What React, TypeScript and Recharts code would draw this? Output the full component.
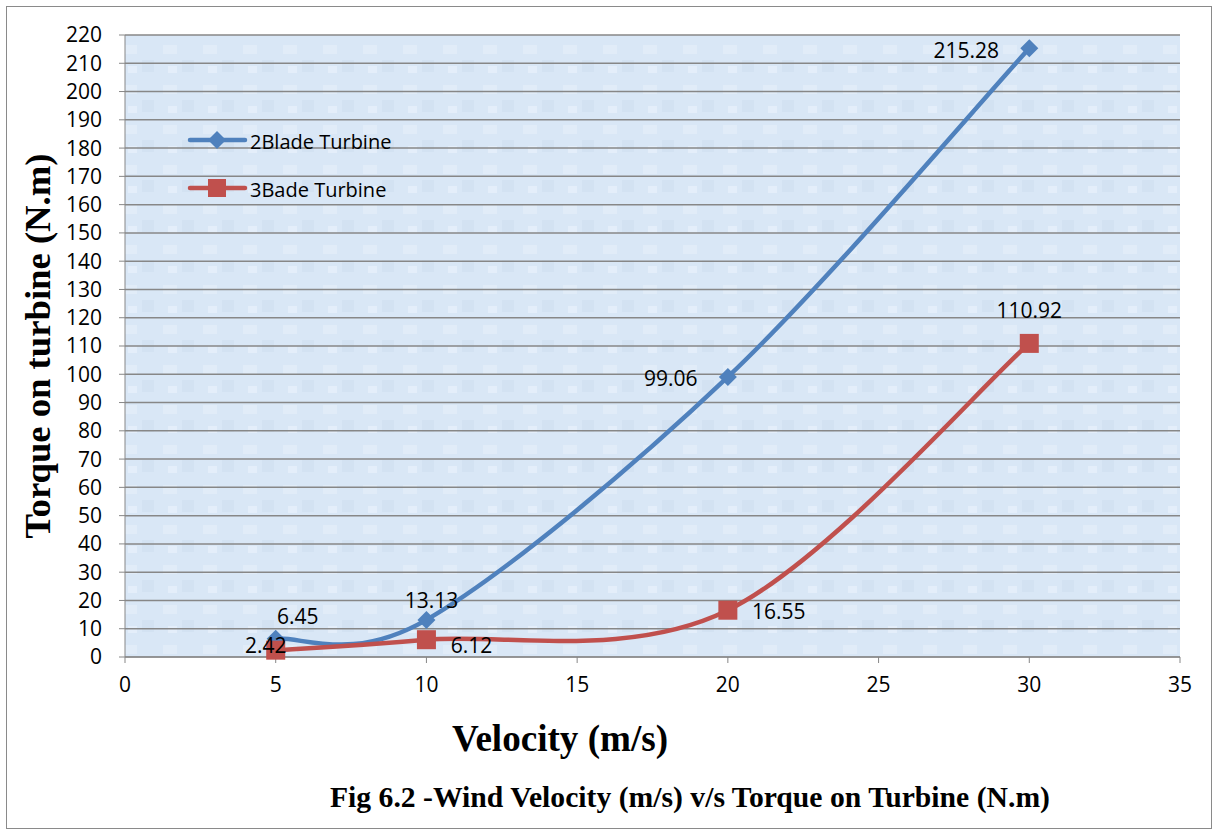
import React from "react";
import { LineChart, Line, XAxis, YAxis, CartesianGrid } from "recharts";

const velocity = [5, 10, 20, 30];
const blade2 = [6.45, 13.13, 99.06, 215.28];
const blade3 = [2.42, 6.12, 16.55, 110.92];
const xTicks = [0, 5, 10, 15, 20, 25, 30, 35];
const yTicks = [0, 10, 20, 30, 40, 50, 60, 70, 80, 90, 100, 110, 120, 130, 140, 150, 160, 170, 180, 190, 200, 210, 220];

const data = velocity.map((v, i) => ({ v, b2: blade2[i], b3: blade3[i] }));

// label placement per point: [dx, dy] offsets relative to the point (text centre)
const b2Pos = [[22, -23], [5, -20], [-57, 1], [-63, 2]];
const b3Pos = [[-10, -5], [45, 5], [51, 1], [0, -33]];

// Excel-style smooth curve (Catmull-Rom Bezier)
function excelCurve(context: any) {
  let pts: number[][] = [];
  return {
    areaStart() {},
    areaEnd() {},
    lineStart() {
      pts = [];
    },
    point(x: number, y: number) {
      pts.push([+x, +y]);
    },
    lineEnd() {
      if (!pts.length) return;
      context.moveTo(pts[0][0], pts[0][1]);
      for (let i = 0; i < pts.length - 1; i++) {
        const p0 = pts[i - 1] || pts[i];
        const p1 = pts[i];
        const p2 = pts[i + 1];
        const p3 = pts[i + 2] || pts[i + 1];
        const c1x = p1[0] + (p2[0] - p0[0]) / 6;
        const c1y = p1[1] + (p2[1] - p0[1]) / 6;
        const c2x = p2[0] - (p3[0] - p1[0]) / 6;
        const c2y = p2[1] - (p3[1] - p1[1]) / 6;
        context.bezierCurveTo(c1x, c1y, c2x, c2y, p2[0], p2[1]);
      }
    },
  };
}

const BLUE = "#4F81BD";
const RED = "#C0504D";
const FONT = "'Open Sans', 'Noto Sans', sans-serif";
const SERIF = "'Liberation Serif', 'Times New Roman', serif";

const Diamond = (props: any) => {
  const { cx, cy } = props;
  if (cx == null || cy == null) return null;
  const s = 9;
  return <path d={`M${cx},${cy - s}L${cx + s},${cy}L${cx},${cy + s}L${cx - s},${cy}Z`} fill={BLUE} />;
};
const Square = (props: any) => {
  const { cx, cy } = props;
  if (cx == null || cy == null) return null;
  const s = 9.5;
  return <rect x={cx - s} y={cy - s} width={2 * s} height={2 * s} fill={RED} />;
};

const makeLabel = (pos: number[][], vals: number[]) => (props: any) => {
  const { x, y, index } = props;
  const [dx, dy] = pos[index];
  return (
    <text x={x + dx} y={y + dy} textAnchor="middle" dominantBaseline="central" fontFamily={FONT} fontSize={21} fill="#000">
      {vals[index].toFixed(2)}
    </text>
  );
};

export default function App() {
  return (
    <div style={{ position: "absolute", left: 0, top: 0, width: 1214, height: 831, background: "#fff" }}>
      <div style={{ position: "absolute", left: 6, top: 6, width: 1204, height: 821, border: "1.5px solid #8a8a8a" }} />
      <LineChart
        width={1214}
        height={831}
        data={data}
        margin={{ top: 35, right: 34, left: 0, bottom: 144 }}
        style={{ position: "absolute", left: 0, top: 0 }}
      >
        <defs>
          <pattern id="tex" width="40" height="40" patternUnits="userSpaceOnUse">
            <rect width="40" height="40" fill="#d9e7f6" />
            <rect x="3" y="5" width="14" height="9" fill="#e1ecf8" />
            <rect x="22" y="20" width="12" height="12" fill="#d3e2f2" />
            <rect x="8" y="26" width="9" height="7" fill="#e4eefa" />
          </pattern>
        </defs>
        <CartesianGrid vertical={false} stroke="#878787" strokeWidth={1.5} fill="url(#tex)" />
        <XAxis
          dataKey="v"
          type="number"
          domain={[0, 35]}
          ticks={xTicks}
          height={30}
          interval={0}
          stroke="#878787"
          tickSize={6}
          tick={{ fontFamily: FONT, fontSize: 21, fill: "#000" }}
          tickMargin={14}
        />
        <YAxis
          type="number"
          domain={[0, 220]}
          ticks={yTicks}
          width={125}
          interval={0}
          stroke="#878787"
          tickSize={6}
          tick={{ fontFamily: FONT, fontSize: 21, fill: "#000" }}
          tickMargin={17}
        />
        <Line
          dataKey="b2"
          type={excelCurve as any}
          stroke={BLUE}
          strokeWidth={4.5}
          dot={<Diamond />}
          activeDot={false}
          isAnimationActive={false}
          label={makeLabel(b2Pos, blade2)}
        />
        <Line
          dataKey="b3"
          type={excelCurve as any}
          stroke={RED}
          strokeWidth={4.5}
          dot={<Square />}
          activeDot={false}
          isAnimationActive={false}
          label={makeLabel(b3Pos, blade3)}
        />
      </LineChart>
      <svg width={1214} height={831} style={{ position: "absolute", left: 0, top: 0, pointerEvents: "none" }}>
        {/* legend */}
        <line x1={190} y1={140} x2={245} y2={140} stroke={BLUE} strokeWidth={4.5} strokeLinecap="round" />
        <path d="M217,131L226,140L217,149L208,140Z" fill={BLUE} />
        <text x={250} y={141} dominantBaseline="central" fontFamily={FONT} fontSize={20} fill="#000">2Blade Turbine</text>
        <line x1={190} y1={188} x2={245} y2={188} stroke={RED} strokeWidth={4.5} strokeLinecap="round" />
        <rect x={208} y={179} width={18} height={18} fill={RED} />
        <text x={250} y={189} dominantBaseline="central" fontFamily={FONT} fontSize={20} fill="#000">3Bade Turbine</text>
        {/* titles */}
        <text
          transform="translate(50,346) rotate(-90)"
          textAnchor="middle"
          fontFamily={SERIF}
          fontWeight="bold"
          fontSize={35}
          textLength={385}
          lengthAdjust="spacingAndGlyphs"
          fill="#000"
        >
          Torque on turbine (N.m)
        </text>
        <text x={560} y={751} textAnchor="middle" fontFamily={SERIF} fontWeight="bold" fontSize={38} textLength={216} lengthAdjust="spacingAndGlyphs" fill="#000">
          Velocity (m/s)
        </text>
        <text x={690} y={807} textAnchor="middle" fontFamily={SERIF} fontWeight="bold" fontSize={30} textLength={720} lengthAdjust="spacingAndGlyphs" fill="#000">
          Fig 6.2 -Wind Velocity (m/s) v/s Torque on Turbine (N.m)
        </text>
      </svg>
    </div>
  );
}
